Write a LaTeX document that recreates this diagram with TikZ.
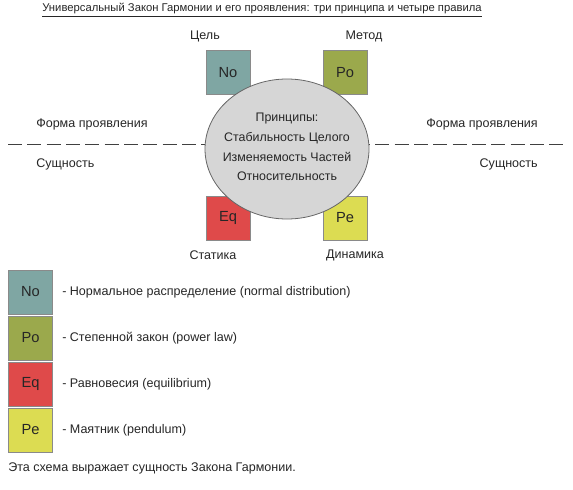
\documentclass[tikz,border=0pt]{standalone}
\usepackage{fontspec}
\setmainfont{Liberation Sans}
\definecolor{cNo}{HTML}{7FA6A3}
\definecolor{cPo}{HTML}{9BA94C}
\definecolor{cEq}{HTML}{DF4A4A}
\definecolor{cPe}{HTML}{DCDC52}
\definecolor{cCirc}{HTML}{D6D6D6}
\definecolor{cEdge}{HTML}{8A8A8A}
\tikzset{
  every node/.style={font=\fontsize{9.4}{11}\selectfont, text=black!85},
  sq/.style={draw=cEdge, line width=0.6pt, minimum width=33pt, minimum height=33pt, inner sep=0pt, font=\fontsize{11}{12}\selectfont},
  lbl/.style={inner sep=0pt},
  circfill/.style={draw=black!60, line width=0.6pt, fill=cCirc},
}
\begin{document}
\begin{tikzpicture}[x=0.75pt,y=-0.75pt]
\useasboundingbox (0,0) rectangle (573,489);
% title
\node[lbl, font=\fontsize{8.45}{10}\selectfont] (title) at (262,10) {\underline{Универсальный Закон Гармонии и его проявления: три принципа и четыре правила}};
% dashed line
\coordinate (dl) at (8,144);
\coordinate (dr) at (566,144);
\draw[black!75, line width=0.6pt, dash pattern=on 10.5pt off 4pt] (dl) -- (dr);
% boxes
\node[sq, fill=cNo] (no) at (228,72.5) {No};
\node[sq, fill=cPo] (po) at (345,72.5) {Po};
\node[sq, fill=cEq] (eq) at (228,218) {Eq};
\node[sq, fill=cPe] (pe) at (345,218) {Pe};
% circle
\coordinate (cc) at (287,149);
\draw[circfill] (cc) ellipse [x radius=61.5pt, y radius=52.5pt];
\node[lbl, align=center, font=\fontsize{9.3}{14.8}\selectfont] (circ) at (287,147)
  {Принципы:\\Стабильность Целого\\Изменяемость Частей\\Относительность};
% corner labels
\node[lbl] (cel) at (205,36) {Цель};
\node[lbl] (met) at (364,36) {Метод};
\node[lbl] (sta) at (213,255) {Статика};
\node[lbl] (din) at (355,255) {Динамика};
% side labels
\node[lbl, anchor=west] (fl) at (36,124) {Форма проявления};
\node[lbl, anchor=west] (sl) at (36,164) {Сущность};
\node[lbl, anchor=east] (fr) at (538,124) {Форма проявления};
\node[lbl, anchor=east] (sr) at (538,164) {Сущность};
% legend
\node[sq, fill=cNo] (lno) at (30.5,292) {No};
\node[sq, fill=cPo] (lpo) at (30.5,338) {Po};
\node[sq, fill=cEq] (leq) at (30.5,384) {Eq};
\node[sq, fill=cPe] (lpe) at (30.5,430) {Pe};
\node[lbl, anchor=west] (tno) at (62,292) {- Нормальное распределение (normal distribution)};
\node[lbl, anchor=west] (tpo) at (62,338) {- Степенной закон (power law)};
\node[lbl, anchor=west] (teq) at (62,384) {- Равновесия (equilibrium)};
\node[lbl, anchor=west] (tpe) at (62,430) {- Маятник (pendulum)};
\node[lbl, anchor=west] (foot) at (8,468) {Эта схема выражает сущность Закона Гармонии.};
\end{tikzpicture}
\end{document}
